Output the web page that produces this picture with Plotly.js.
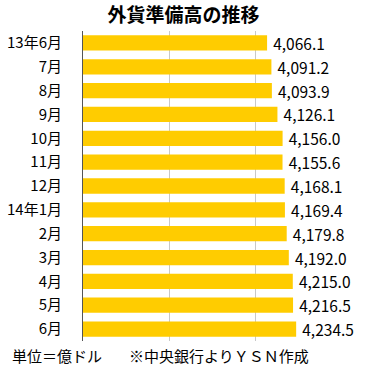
<!DOCTYPE html>
<html><head><meta charset="utf-8">
<script src="https://cdn.plot.ly/plotly-3.0.1.min.js"></script>
<style>html,body{margin:0;padding:0;background:#fff;}</style>
</head><body>
<div id="chart" style="width:367px;height:368px;"></div>
<script>
const categories = ["13年6月","7月","8月","9月","10月","11月","12月","14年1月","2月","3月","4月","5月","6月"];
const values = [4066.1,4091.2,4093.9,4126.1,4156.0,4155.6,4168.1,4169.4,4179.8,4192.0,4215.0,4216.5,4234.5];
const labels = values.map(v => "\u2009" + v.toLocaleString("en-US",{minimumFractionDigits:1,maximumFractionDigits:1}));
const FONT = "Noto Sans CJK JP, sans-serif";
Plotly.newPlot("chart", [{
  type: "bar", orientation: "h",
  x: values, y: categories,
  marker: {color: "#FFCC00"},
  text: labels, textposition: "outside", cliponaxis: false, constraintext: "none",
  textfont: {family: FONT, size: 15.5, color: "#000"},
  hoverinfo: "none"
}], {
  width: 367, height: 368,
  margin: {l: 83, r: 25, t: 31, b: 27},
  paper_bgcolor: "#fff", plot_bgcolor: "#fff",
  bargap: 0.36,
  showlegend: false,
  title: {text: "<b>外貨準備高の推移</b>", font: {family: FONT, size: 19, color: "#000"}, x: 0.5, xanchor: "center", y: 0.958, yanchor: "middle"},
  xaxis: {range: [3000, 4500], dtick: 500, showticklabels: false, showgrid: true, gridcolor: "#c8c8c8", gridwidth: 1, zeroline: false, showline: false, ticks: ""},
  yaxis: {autorange: "reversed", type: "category", showline: true, linecolor: "#555", linewidth: 1, ticks: "", ticklabelstandoff: 17,
          tickfont: {family: FONT, size: 15, color: "#000"}},
  annotations: [
    {text: "単位＝億ドル", xref: "paper", yref: "paper", x: -83/259, xanchor: "left", xshift: 10, y: 0, yshift: -14, yanchor: "middle", showarrow: false, font: {family: FONT, size: 15, color: "#000"}},
    {text: "※中央銀行よりＹＳＮ作成", xref: "paper", yref: "paper", x: -83/259, xanchor: "left", xshift: 127, y: 0, yshift: -14, yanchor: "middle", showarrow: false, font: {family: FONT, size: 15, color: "#000"}}
  ]
}, {staticPlot: true});
</script>
</body></html>
